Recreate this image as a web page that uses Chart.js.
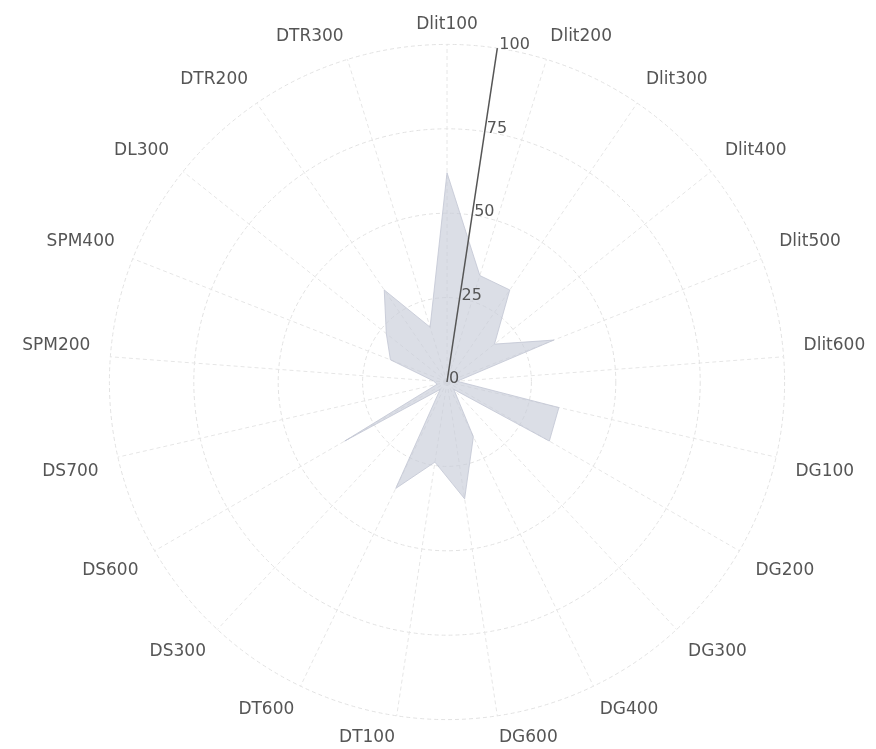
<!DOCTYPE html>
<html><head><meta charset="utf-8">
<script src="https://cdn.jsdelivr.net/npm/chart.js@4"></script>
<style>html,body{margin:0;padding:0;background:#fff}#wrap{width:876px;height:749px;position:relative}</style>
</head><body><div id="wrap"><canvas id="c"></canvas></div>
<script>
const categories = ['Dlit100','Dlit200','Dlit300','Dlit400','Dlit500','Dlit600','DG100','DG200','DG300','DG400','DG600','DT100','DT600','DS300','DS600','DS700','SPM200','SPM400','DL300','DTR200','DTR300'];
const values = [62,33,33,18,34,3,34,35,3,18,35,24,35,3,35,3,4,18,23,33,17];
const tickValues = [0,25,50,75,100];
const tickLabels = ['0','25','50','75','100'];

const tiltedAxis = {
  id:'tiltedAxis',
  afterDatasetsDraw(chart){
    const s = chart.scales.r;
    const ctx = chart.ctx;
    const idx = 0.5;
    const p0 = s.getPointPosition(idx, 0);
    const p1 = s.getPointPosition(idx, s.getDistanceFromCenterForValue(100));
    ctx.save();
    ctx.strokeStyle = '#555'; ctx.lineWidth = 1.5;
    ctx.beginPath(); ctx.moveTo(p0.x, p0.y); ctx.lineTo(p1.x, p1.y); ctx.stroke();
    ctx.font = '16px "DejaVu Sans"';
    ctx.fillStyle = '#555'; ctx.textAlign = 'left'; ctx.textBaseline = 'middle';
    tickValues.forEach((v, i) => {
      const p = s.getPointPosition(idx, s.getDistanceFromCenterForValue(v));
      ctx.fillText(tickLabels[i], p.x + 2, p.y - 3);
    });
    ctx.restore();
  }
};

new Chart(document.getElementById('c'), {
  type: 'radar',
  data: {
    labels: categories,
    datasets: [{
      data: values,
      backgroundColor: 'rgba(200,204,216,0.65)',
      borderColor: 'rgba(194,198,211,0.8)',
      borderWidth: 1,
      pointRadius: 0,
      fill: true
    }]
  },
  options: {
    responsive: true,
    maintainAspectRatio: false,
    animation: false,
    layout: { padding: { top: 13, bottom: 0, left: 12, right: 0 } },
    plugins: { legend: { display: false }, tooltip: { enabled: false } },
    scales: {
      r: {
        min: 0, max: 100,
        ticks: { stepSize: 25, display: false },
        grid: { circular: true, color: '#e2e2e2' },
        border: { dash: [4, 3] },
        angleLines: { color: '#e6e6e6', borderDash: [4, 3] },
        pointLabels: {
          font: { size: 17, family: '"DejaVu Sans"' },
          color: '#555',
          padding: (ctx) => 10 + 10 * Math.abs(Math.sin(ctx.index * 2 * Math.PI / categories.length))
        }
      }
    }
  },
  plugins: [tiltedAxis]
});
</script>
</body></html>
